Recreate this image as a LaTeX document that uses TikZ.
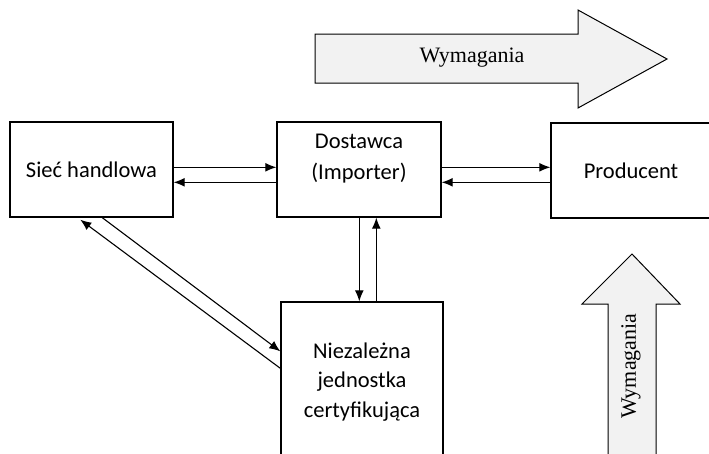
\documentclass[tikz,border=0pt]{standalone}
\usepackage{fontspec}
\setmainfont{Liberation Serif}
\newfontfamily\boxfont{Carlito}
\usetikzlibrary{arrows.meta,calc}
\definecolor{arrowgray}{RGB}{242,242,242}
\tikzstyle{line} = [draw, line width=1.1pt, -{Latex[length=11pt,width=9pt]}]
\tikzstyle{boxtext} = [inner sep=0pt, font=\boxfont\fontsize{22.5}{31}\selectfont, align=center]
\tikzstyle{box} = [draw, line width=1.4pt, rectangle, boxtext]
\tikzstyle{bigarrow} = [draw, line width=1pt, fill=arrowgray]
\tikzstyle{bigtext} = [font=\fontsize{22}{26}\selectfont]

\begin{document}
\begin{tikzpicture}[x=1pt,y=-1pt]
    \useasboundingbox (0,0) rectangle (709,453);
    \clip (0,0) rectangle (709,453);
    % Draw the two big arrows
    \draw [bigarrow] (315,34) -- (578,34) -- (578,10) -- (667,59) -- (578,108) -- (578,83) -- (315,83) -- cycle;
    \node [bigtext] (wymtop) at (472,58) {Wymagania};
    \draw [bigarrow] (608,470) -- (608,304) -- (582,304) -- (632,254) -- (680,304) -- (656,304) -- (656,470);
    \node [bigtext, rotate=90] (wymright) at (631,366) {Wymagania};
    % Draw the boxes
    \node [box, minimum width=163pt, minimum height=95pt] (siec) at (91.5,169.5) {Sieć handlowa};
    \node [box, minimum width=164pt, minimum height=95pt] (dost) at (359,169.5) {};
    \node [boxtext] (dostlabel) at ($(dost.center)+(0,-11)$) {Dostawca\\(Importer)};
    \node [box, minimum width=160pt, minimum height=95pt] (prod) at (631,170.5) {Producent};
    \node [box, minimum width=162pt, minimum height=160pt, font=\boxfont\fontsize{22.5}{29.5}\selectfont] (niez) at (362,382) {Niezależna\\jednostka\\certyfikująca};
    % Draw the connectors
    \path [line] ($(siec.north east)+(0,46)$) -- ($(dost.north west)+(0,46)$);
    \path [line] ($(dost.north west)+(0,61)$) -- ($(siec.north east)+(0,61)$);
    \path [line] ($(dost.north east)+(0,46)$) coordinate (a) -- (a -| prod.west);
    \path [line] ($(prod.north west)+(0,60)$) coordinate (b) -- (b -| dost.east);
    \path [line] ($(dost.south west)+(83,0)$) coordinate (c) -- (c |- niez.north);
    \path [line] ($(niez.north west)+(96,0)$) coordinate (d) -- (d |- dost.south);
    \path [line] ($(siec.south west)+(93,0)$) -- ($(niez.north west)+(0,50)$);
    \path [line] ($(niez.north west)+(0,67)$) -- ($(siec.south west)+(71,2)$);
\end{tikzpicture}
\end{document}
